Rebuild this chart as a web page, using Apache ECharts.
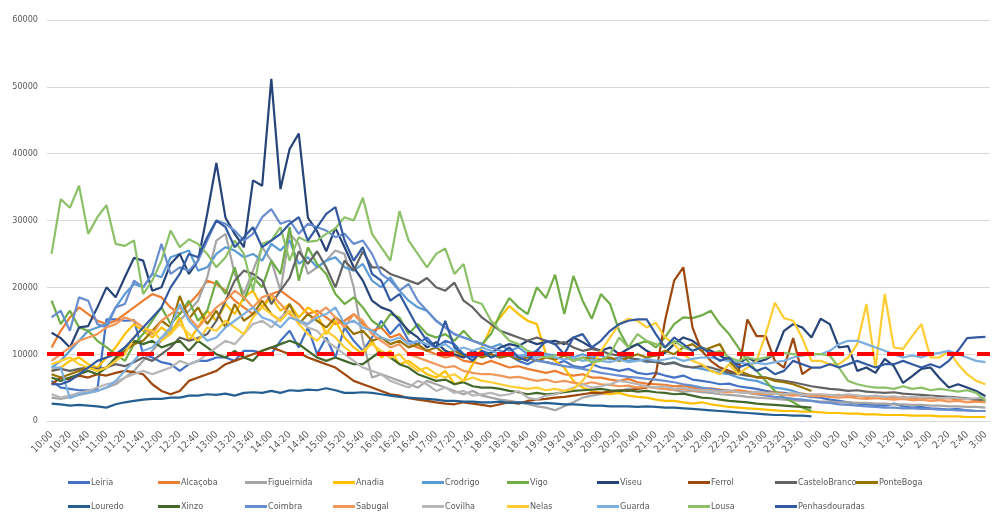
<!DOCTYPE html>
<html>
<head>
<meta charset="utf-8">
<script src="https://cdn.jsdelivr.net/npm/echarts@6/dist/echarts.min.js"></script>
<style>
  html, body { margin: 0; padding: 0; background: #ffffff; }
  #chart { width: 997px; height: 520px; }
</style>
</head>
<body>
<div id="chart"></div>
<script>
// Time slots, 10-minute steps from 10:00 to 3:00
const times = [
  "10:00","10:10","10:20","10:30","10:40","10:50",
  "11:00","11:10","11:20","11:30","11:40","11:50",
  "12:00","12:10","12:20","12:30","12:40","12:50",
  "13:00","13:10","13:20","13:30","13:40","13:50",
  "14:00","14:10","14:20","14:30","14:40","14:50",
  "15:00","15:10","15:20","15:30","15:40","15:50",
  "16:00","16:10","16:20","16:30","16:40","16:50",
  "17:00","17:10","17:20","17:30","17:40","17:50",
  "18:00","18:10","18:20","18:30","18:40","18:50",
  "19:00","19:10","19:20","19:30","19:40","19:50",
  "20:00","20:10","20:20","20:30","20:40","20:50",
  "21:00","21:10","21:20","21:30","21:40","21:50",
  "22:00","22:10","22:20","22:30","22:40","22:50",
  "23:00","23:10","23:20","23:30","23:40","23:50",
  "0:00","0:10","0:20","0:30","0:40","0:50",
  "1:00","1:10","1:20","1:30","1:40","1:50",
  "2:00","2:10","2:20","2:30","2:40","2:50",
  "3:00"
];

const yTicks = [0, 10000, 20000, 30000, 40000, 50000, 60000];
const limitValue = 10000;

const leiria = [
  6000,5000,4800,4600,4600,4700, 15200,15200,15000,15100,10000,9500,
  8800,8500,7500,8500,9000,9000, 9500,9500,9000,10500,10500,10200,
  10000,12000,13500,11000,14000,10000, 12500,9500,14000,12000,10500,12500,
  15000,13000,14500,12000,11500,12500, 11000,12000,11500,10000,9500,10500,
  10000,9500,9800,9000,8500,9200, 8800,8500,9000,8200,8000,8500,
  8000,7800,7500,7800,7200,7000, 7200,6800,6500,6800,6200,6000,
  5800,5500,5600,5200,5000,4800, 4500,4300,4200,4000,3800,3600,
  3500,3200,3000,2800,2600,2500, 2400,2300,2600,2200,2000,2100,
  1900,1800,1700,1800,1600,1500, 1500
];
const alcacoba = [
  11000,13500,15500,17000,16000,15000, 14500,15000,16000,17000,18000,19000,
  18500,17000,16000,17500,19000,21000, 20500,19500,18000,17000,16000,17000,
  19000,19500,18500,17500,16000,16500, 15500,14500,15000,16000,14500,13500,
  14000,12500,13000,11500,11000,10500, 10000,9500,9800,9000,8800,8500,
  9000,8500,8000,8200,7800,7500, 7200,7500,7000,6800,7000,6500,
  6500,6200,6000,6300,5800,5600, 5500,5400,5200,5300,5000,4800,
  4900,4700,4500,4600,4400,4300, 4200,4300,4100,4000,4100,3900,
  3900,3800,3900,3700,3800,3600, 3700,3600,3500,3600,3400,3500,
  3400,3300,3400,3200,3300,3100, 3200
];
const figueirnida = [
  3500,3300,3600,3900,4200,4500, 5000,5500,6500,7500,9000,10500,
  12000,13500,15000,16500,18000,21500, 27000,28000,22000,19000,22500,26000,
  24000,19500,28000,26500,22000,23000, 24000,25500,25000,20000,12000,6500,
  7000,6500,6000,5500,5000,6000, 5500,5000,4500,4000,4500,3800,
  3500,3200,3000,2800,2500,2200, 2000,1600,2200,2800,3500,3800,
  4000,4200,4500,4800,5000,5200, 5000,4800,4600,4400,4500,4300,
  4200,4000,3900,3800,3600,3500, 3400,3300,3200,3100,3000,3000,
  2900,2900,2800,2800,2700,2700, 2600,2600,2500,2500,2400,2400,
  2300,2300,2200,2200,2100,2100, 2000
];
const anadia = [
  7500,8000,9000,9500,8500,8000, 9500,11000,13000,14500,13500,12500,
  14000,13000,15500,12000,14000,16500, 15000,17500,16000,18500,19500,17000,
  18500,16500,17500,15500,17000,16000, 13000,15000,12500,11000,10000,12000,
  9500,10500,8500,9000,8000,7000, 6500,7500,5500,6000,8500,11000,
  14000,15500,17200,16000,15000,14500, 10000,9000,8000,6000,5000,4500,
  4200,4000,4200,3800,3600,3500, 3200,3000,3000,2800,2600,2800,
  2500,2300,2100,2000,1900,1800, 1700,1600,1500,1500,1400,1400,
  1300,1200,1200,1100,1100,1000, 1000,900,900,900,800,800,
  800,700,700,700,600,600, 600
];
const crodrigo = [
  8000,9000,10500,12000,13500,14000, 14500,17000,19000,20500,20000,22000,
  21500,24500,25000,25500,22500,23000, 25000,26000,25500,24500,25000,24000,
  26500,25500,27000,23500,24500,23000, 24000,24500,23000,22500,23500,21000,
  20000,21500,19500,18000,17000,16500, 15000,14000,13000,12500,12000,11500,
  11000,11500,10500,11000,10000,10500, 10000,9800,10200,9500,10000,9500,
  9800,9200,9500,9000,9300,8800, 9000,8500,8800,8200,8000,7800,
  7500,7200,7000,6500,6200,6000, 5500,5000,4800,4500,4000,3500
];
const vigo = [
  18000,14500,16500,14000,13500,12000, 11000,10000,9000,11500,13000,15000,
  17000,14500,16000,18000,15000,16500, 21000,19000,23000,18000,21500,20000,
  24000,22000,29000,21000,26000,23500, 22000,19000,17500,18500,17000,15000,
  14000,16000,15500,13000,14500,13000, 12500,13000,12000,13500,12000,11500,
  13000,16000,18400,17000,16000,20000, 18400,21900,16000,21700,18000,15300,
  19000,17500,13500,11000,11500,12000, 11000,12500,14500,15500,15400,15800,
  16500,14500,13000,11000,9000,7500, 6000,4500,3500,2800,2000,1500
];
const viseu = [
  13200,12400,11000,14000,14200,17000, 20000,18500,21500,24400,24000,19500,
  20000,23500,25000,22000,24000,31000, 38600,30400,28000,26000,36000,35200,
  51200,34700,40700,43000,30400,28400, 25400,28900,26000,23000,21000,18000,
  17000,16500,15000,13500,12500,11000, 11800,10500,10000,9500,10500,9800,
  10200,11000,11500,11200,12000,11500, 11800,12000,11500,12500,11800,11000,
  10500,11000,10000,10800,11500,10500, 9800,10200,11500,12500,12000,11000,
  10500,9800,9000,8500,9500,8800, 9200,10000,13500,14500,14000,12500,
  15300,14500,11000,11200,7500,8000, 7200,9300,8200,5700,6700,7800,
  8000,6400,5000,5500,5000,4500, 3700
];
const ferrol = [
  5500,6500,6200,6800,6500,7000, 6800,7200,7500,7300,7000,5500,
  4500,4000,4500,6000,6500,7000, 7500,8500,9000,9500,10000,10500,
  11000,10500,10000,10200,9500,9000, 8500,8000,7000,6000,5500,5000,
  4500,4000,3800,3400,3200,3000, 2800,2600,2500,2800,2600,2400,
  2200,2500,2800,2600,3000,3200, 3300,3500,3600,3800,4000,4200,
  4200,4400,4600,4500,4800,5000, 7000,15000,21000,23000,14000,10500,
  9000,8000,7500,7000,15200,12700, 12700,9000,8000,12400,7000,8000
];
const casteloBranco = [
  7500,7800,7500,7800,8000,7800, 8000,8500,8200,8800,9500,9000,
  10000,11000,12500,12000,12400,13000, 15000,18000,21000,22500,22000,21000,
  17500,19500,21400,25400,23500,25400, 23000,20000,24000,22500,25400,23000,
  23000,22000,21500,21000,20500,21400, 20000,19500,20700,18000,17000,15500,
  14500,13500,13000,12500,12000,12500, 12000,11500,11800,11000,10500,10800,
  10500,10000,9800,9500,9200,9000, 8800,8500,8700,8200,8000,8200,
  8000,7600,7200,7000,6800,6600, 6500,6200,6000,5800,5500,5200,
  5000,4800,4700,4500,4600,4400, 4300,4200,4300,4100,4000,3900,
  3800,3700,3600,3500,3400,3200, 3000
];
const ponteBoga = [
  7000,6500,7000,7500,8000,7500, 8000,9000,10500,11500,12000,13500,
  15000,14000,18700,15300,17000,14500, 16500,14000,17500,15000,16000,18000,
  16000,15000,17500,14500,16000,15000, 14000,15500,14500,13000,13500,12000,
  12500,11500,12000,11000,11500,10500, 11000,10000,10500,9800,10200,9500,
  10000,9500,9800,9200,9500,9000, 9500,9200,9800,9000,9500,9300,
  9200,9500,9000,9500,10000,9500, 9800,10500,10000,11000,11500,10500,
  11000,11500,9000,7500,7000,6500, 6500,6000,5800,5500,5000,4500
];
const louredo = [
  2600,2500,2300,2400,2300,2200, 2000,2500,2800,3000,3200,3300,
  3300,3500,3500,3800,3800,4000, 3900,4100,3800,4200,4300,4200,
  4500,4200,4600,4500,4700,4600, 4900,4600,4200,4200,4300,4200,
  4000,3800,3600,3500,3400,3300, 3200,3000,3000,2900,2900,2800,
  2800,2900,2700,2800,2700,2600, 2700,2600,2500,2500,2400,2300,
  2300,2200,2200,2200,2100,2200, 2100,2000,2000,1900,1800,1700,
  1600,1500,1400,1300,1200,1100, 1000,900,900,800,800,700
];
const xinzo = [
  6500,6000,6500,7000,7500,7000, 8000,9500,11000,12000,11500,12000,
  11000,11500,12000,10500,12000,11000, 10000,9500,10500,9500,9000,10500,
  11000,11500,12000,11500,10500,9500, 9000,9500,9000,8500,8500,9500,
  10500,9500,8500,8000,7000,6500, 6000,6200,5500,5800,5200,5000,
  5000,4800,4500,4300,4000,4200, 4000,4100,4300,4500,4600,4700,
  4800,4600,4500,4600,4400,4500, 4300,4200,4000,4100,3800,3500,
  3400,3200,3000,2900,2800,2600, 2500,2400,2300,2200,2100,2000
];
const coimbra = [
  15500,16500,13500,18500,18000,14500, 14000,17000,17500,21000,20000,22000,
  26500,22000,23000,22500,24000,27000, 30000,29500,28500,27000,28000,30500,
  31700,29500,30000,28000,29500,29000, 28500,27500,28000,26500,27000,25000,
  22000,21000,19500,20500,18000,16500, 15000,14000,13000,12500,12000,11500,
  11000,10500,10000,9500,9800,9000, 8800,8500,8200,8000,7800,7500,
  7200,7000,6800,6600,6500,6300, 6200,6000,5800,5500,5300,5000,
  4800,4600,4500,4300,4200,4000, 3800,3600,3500,3300,3200,3000,
  2800,2700,2500,2400,2300,2200, 2100,2000,2000,1900,1900,1800,
  1800,1700,1700,1600,1600,1500, 1500
];
const sabugal = [
  9000,10000,11000,12000,12500,13000, 14000,14500,15500,15000,14000,13000,
  15000,16000,17000,15500,14000,15500, 17000,18000,19500,18500,17000,18500,
  19000,17500,16000,15000,14500,16000, 17000,15500,14000,16000,15000,13000,
  12000,11000,11500,10000,9500,9000, 8500,8000,8200,7500,7200,7000,
  7000,6800,6500,6600,6300,6000, 6200,5800,6000,5700,5500,5800,
  5500,5400,5200,5300,5000,5100, 4900,4800,4700,4800,4600,4500,
  4600,4400,4300,4400,4200,4100, 4000,4100,3900,3800,3900,3700,
  3700,3600,3500,3600,3400,3300, 3400,3300,3200,3300,3100,3200,
  3000,3100,2900,3000,2800,2900, 2800
];
const covilha = [
  4000,3500,3800,4200,4500,5000, 5500,5800,6500,7000,7500,7000,
  7500,8000,9000,8500,9000,10000, 11000,12000,11500,13000,14500,15000,
  14000,15500,16500,15000,14000,13500, 12000,11000,10000,9000,8000,7500,
  7000,6000,5500,5000,6000,5500, 4500,5000,4200,4500,3800,4000,
  4200,3800,4000,4500,3500,3200, 3800,4000,4500,5000,5500,5000,
  5200,5500,6000,5800,5500,5200, 5000,5200,4800,5000,4700,4600,
  4500,4400,4600,4300,4200,4400, 4200,4100,4000,4200,3900,4000,
  4000,3900,3800,4000,3800,3700, 3800,3600,3700,3500,3600,3500,
  3600,3400,3500,3400,3300,3400, 3500
];
const nelas = [
  8500,9000,9500,8500,8000,7500, 8000,9000,10000,12500,14000,13500,
  12000,13000,14500,13000,12000,14000, 13500,15000,14000,13000,15500,17000,
  16000,15000,16500,14500,13000,12000, 13500,12500,11000,10000,10500,11500,
  10500,9500,10000,8500,7500,8000, 7000,6500,7000,6000,6500,6000,
  5800,5500,5200,5000,4800,5000, 4600,4800,4500,4800,6000,8000,
  10500,12500,14500,15300,15000,14000, 14700,12500,11500,10000,9000,8500,
  7500,7000,8500,7000,8000,9000, 13000,17700,15400,15000,12400,9000,
  9000,8500,8500,9500,11500,17500, 8000,19000,11000,10800,12700,14500,
  9500,9500,10500,8500,7000,6000, 5500
];
const guarda = [
  8000,8000,3400,4000,4200,4500, 5000,6000,7500,9000,10500,11000,
  12500,14000,17500,15000,13500,12000, 12500,14000,15000,16000,17000,15500,
  15000,14000,15500,15000,14500,15500, 16000,17000,14500,15000,14000,13500,
  12500,12000,12500,11500,12000,11500, 11000,11500,10500,11000,10500,11000,
  10500,10000,10200,9800,10000,9500, 9800,9500,9200,9500,9000,9200,
  9000,8800,9200,8800,9000,9300, 9000,9200,9500,9000,9300,9500,
  9500,9200,9000,8800,8500,8700, 8500,8800,9000,9500,9800,10000,
  10000,10500,11500,12000,12000,11500, 11000,10500,10000,9500,9800,9500,
  10000,10200,10500,10000,9500,9000, 8800
];
const lousa = [
  25000,33200,31900,35200,28000,30500, 32300,26500,26200,27000,19000,21000,
  24000,28500,26000,27200,26500,25000, 23000,24500,27000,25000,19500,26500,
  27000,29000,24000,27500,26800,27000, 28000,28800,30500,30000,33400,28000,
  26000,24000,31400,27000,25000,23000, 25000,25800,22000,23500,18000,17500,
  15000,13500,12000,11500,10500,10000, 9500,9800,10000,9000,9500,8800,
  9000,10000,12500,11000,13000,12000, 11500,11000,12000,11000,10500,11000,
  10000,10500,9500,9000,9500,9200, 9500,10000,10200,10000,9800,10000,
  10000,9800,8000,6000,5500,5200, 5000,5000,4800,5200,4800,5000,
  4600,4800,4600,4400,4600,4200, 3000
];
const penhasdouradas = [
  5500,5500,6000,7000,8000,9000, 9500,10000,11000,12500,14000,15500,
  17000,20000,22000,25000,24500,27500, 30000,29000,26000,27500,29000,26000,
  27000,28000,29500,30500,27000,29000, 31000,32000,27000,24000,26000,22000,
  21000,18000,19000,16500,14000,12000, 11000,15000,11000,10000,9000,10500,
  9500,10000,11000,9500,9000,10500, 12000,11500,10000,12500,13000,11000,
  12000,13500,14500,15000,15200,15200, 13000,11000,12500,11500,10500,11000,
  10000,9000,9500,8000,8500,7500, 8000,7000,7500,9000,8500,8000,
  8000,8500,8000,8500,9000,8500, 8000,8500,8500,9000,8500,8000,
  8500,8000,9000,10500,12400,12500, 12600
];

// Legend rows: [name, values, colour]
const seriesDefs = [
  ["Leiria", leiria, "#4472C4"],
  ["Alcaçoba", alcacoba, "#ED7D31"],
  ["Figueirnida", figueirnida, "#A5A5A5"],
  ["Anadia", anadia, "#FFC000"],
  ["Crodrigo", crodrigo, "#5B9BD5"],
  ["Vigo", vigo, "#70AD47"],
  ["Viseu", viseu, "#264478"],
  ["Ferrol", ferrol, "#9E480E"],
  ["CasteloBranco", casteloBranco, "#636363"],
  ["PonteBoga", ponteBoga, "#997300"],
  ["Louredo", louredo, "#255E91"],
  ["Xinzo", xinzo, "#43682B"],
  ["Coimbra", coimbra, "#698ED0"],
  ["Sabugal", sabugal, "#F1975A"],
  ["Covilha", covilha, "#B7B7B7"],
  ["Nelas", nelas, "#FFCD33"],
  ["Guarda", guarda, "#7CAFDD"],
  ["Lousa", lousa, "#8CC168"],
  ["Penhasdouradas", penhasdouradas, "#335AA1"]
];

// Legend column positions (left edge of the swatch) and row tops
const legendCols = [68, 158, 245, 333, 422, 507, 597, 688, 775, 856];
const legendRows = [478, 502];

const textFont = "'Liberation Sans Narrow', 'DejaVu Sans Condensed', 'Open Sans', sans-serif";

const legends = seriesDefs.map((d, k) => ({
  data: [d[0]],
  left: legendCols[k % 10],
  top: legendRows[Math.floor(k / 10)],
  icon: 'rect',
  itemWidth: 22,
  itemHeight: 3,
  padding: 0,
  textStyle: { fontFamily: textFont, fontSize: 9, color: '#595959', padding: [0, 0, 0, -4] },
  selectedMode: false
}));

const series = seriesDefs.map((d, k) => {
  const s = {
    name: d[0],
    type: 'line',
    data: d[1],
    symbol: 'none',
    showSymbol: false,
    lineStyle: { width: 2.2, color: d[2] },
    itemStyle: { color: d[2] },
    emphasis: { disabled: true },
    z: 2
  };
  if (k === seriesDefs.length - 1) {
    s.markLine = {
      silent: true,
      symbol: ['none', 'none'],
      label: { show: false },
      lineStyle: { color: '#FF0000', width: 4, type: [17, 13] },
      data: [{ yAxis: limitValue }],
      z: 5
    };
  }
  return s;
});

const chart = echarts.init(document.getElementById('chart'), null, { renderer: 'canvas' });
chart.setOption({
  animation: false,
  backgroundColor: '#ffffff',
  grid: { left: 47, right: 7, top: 20, bottom: 99, containLabel: false },
  legend: legends,
  xAxis: {
    type: 'category',
    data: times,
    boundaryGap: true,
    axisLine: { show: true, lineStyle: { color: '#D9D9D9', width: 1 } },
    axisTick: { show: false },
    axisLabel: {
      interval: 1,
      rotate: 45,
      fontFamily: textFont,
      fontSize: 10,
      color: '#595959',
      margin: 12
    }
  },
  yAxis: {
    type: 'value',
    min: yTicks[0],
    max: yTicks[yTicks.length - 1],
    interval: yTicks[1] - yTicks[0],
    axisLine: { show: false },
    axisTick: { show: false },
    splitLine: { lineStyle: { color: '#D9D9D9', width: 1 } },
    axisLabel: {
      fontFamily: textFont,
      fontSize: 9,
      color: '#595959',
      margin: 9,
      formatter: function (v) { return String(v); }
    }
  },
  series: series
});
</script>
</body>
</html>
